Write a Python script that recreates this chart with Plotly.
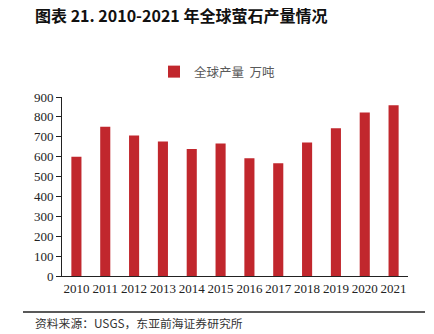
import plotly.graph_objects as go

# 全球萤石产量（万吨）
years = ["2010", "2011", "2012", "2013", "2014", "2015",
         "2016", "2017", "2018", "2019", "2020", "2021"]
output_wt = [600, 750, 706, 676, 638, 666, 592, 567, 671, 743, 822, 859]
y_ticks = [0, 100, 200, 300, 400, 500, 600, 700, 800, 900]

W, H = 434, 334
ML, MR, MT, MB = 62, 26, 97, 58
PW, PH = W - ML - MR, H - MT - MB

def px_x(px):
    return (px - ML) / PW

def px_y(py):
    return (H - MB - py) / PH

serif = "Liberation Serif, Times New Roman, serif"
cjk = "Noto Sans CJK SC, sans-serif"

fig = go.Figure()
fig.add_trace(go.Bar(
    x=years, y=output_wt, name="全球产量  万吨",
    marker=dict(color="#C1272D", line=dict(width=0)),
))

fig.update_layout(
    width=W, height=H,
    margin=dict(l=ML, r=MR, t=MT, b=MB),
    paper_bgcolor="white", plot_bgcolor="white",
    bargap=0.65,
    showlegend=True,
    legend=dict(
        orientation="h", x=px_x(154), xanchor="left",
        y=px_y(72), yanchor="middle",
        font=dict(family=cjk, size=12.5, color="#595959"),
        bgcolor="rgba(0,0,0,0)", itemwidth=30,
    ),
    title=dict(
        text="<b>图表 21. 2010-2021 年全球萤石产量情况</b>",
        x=35 / W, xanchor="left", xref="container",
        y=1 - 16 / H, yanchor="middle", yref="container",
        font=dict(family=cjk, size=16, color="#111111"),
    ),
    xaxis=dict(
        showline=True, linecolor="#222222", linewidth=1,
        ticks="", showgrid=False,
        tickfont=dict(family=serif, size=13, color="#222222"),
    ),
    yaxis=dict(
        range=[0, 900], tickvals=y_ticks,
        showline=True, linecolor="#222222", linewidth=1,
        ticks="outside", ticklen=5, tickcolor="#222222",
        showgrid=False, zeroline=False,
        tickfont=dict(family=serif, size=13, color="#222222"),
    ),
)

# 资料来源分隔线与注释
fig.add_shape(
    type="line", xref="paper", yref="paper",
    x0=px_x(23), x1=px_x(425), y0=px_y(312), y1=px_y(312),
    line=dict(color="#222222", width=1.5),
)
fig.add_annotation(
    text="资料来源：USGS，东亚前海证券研究所",
    xref="paper", yref="paper", x=px_x(33), y=px_y(322),
    xanchor="left", yanchor="middle", showarrow=False,
    font=dict(family=cjk, size=11.8, color="#333333"),
)

fig.write_html("out.html")
